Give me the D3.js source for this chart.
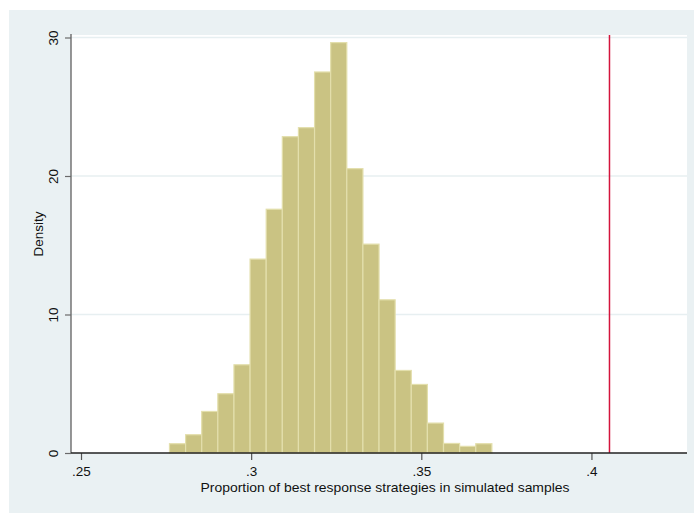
<!DOCTYPE html>
<html>
<head>
<meta charset="utf-8">
<script src="https://cdn.jsdelivr.net/npm/d3@7"></script>
<style>
  html, body { margin: 0; padding: 0; background: #fff; }
  svg { display: block; font-family: "Liberation Sans", Arial, sans-serif; }
</style>
</head>
<body>
<div id="chart"></div>
<script>
// Histogram data (density per bin)
const binStart = 0.2760;
const binWidth = 0.004737;
const densities = [0.67, 1.32, 3.0, 4.28, 6.37, 14.0, 17.6, 22.84, 23.49, 27.51,
                   29.63, 20.53, 15.08, 11.06, 5.96, 4.95, 2.16, 0.69, 0.48, 0.67];
const xTicks = [0.25, 0.30, 0.35, 0.40];
const xTickLabels = [".25", ".3", ".35", ".4"];
const yTicks = [0, 10, 20, 30];
const observedValue = 0.4053;

const W = 694, H = 513;
const margin = { top: 35, right: 7, bottom: 60, left: 71 };

const svg = d3.select('#chart')
  .append('svg')
  .attr('width', W)
  .attr('height', H);

// Outer panel
svg.append('rect')
  .attr('x', 9).attr('y', 10)
  .attr('width', W - 9).attr('height', H - 10)
  .attr('fill', '#eaf1f3');

const x = d3.scaleLinear().domain([0.24706, 0.42808]).range([margin.left, W - margin.right]);
const y = d3.scaleLinear().domain([0, 30.18]).range([H - margin.bottom, margin.top]);

// Plot region
svg.append('rect')
  .attr('x', margin.left).attr('y', margin.top)
  .attr('width', W - margin.right - margin.left)
  .attr('height', H - margin.bottom - margin.top)
  .attr('fill', '#fff');

// Gridlines
svg.selectAll('.grid')
  .data(yTicks.filter(d => d > 0))
  .enter()
  .append('line')
  .attr('x1', margin.left).attr('x2', W - margin.right)
  .attr('y1', d => y(d)).attr('y2', d => y(d))
  .attr('stroke', '#e7eff1')
  .attr('stroke-width', 1.5);

// Bars
const bins = densities.map((v, i) => ({ x0: binStart + i * binWidth, x1: binStart + (i + 1) * binWidth, v }));
svg.selectAll('.bar')
  .data(bins)
  .enter()
  .append('rect')
  .attr('class', 'bar')
  .attr('x', d => x(d.x0))
  .attr('width', d => x(d.x1) - x(d.x0))
  .attr('y', d => y(d.v))
  .attr('height', d => y(0) - y(d.v))
  .attr('fill', '#cac383')
  .attr('stroke', '#e3dfac')
  .attr('stroke-width', 1.2);

// Observed value line
svg.append('line')
  .attr('x1', x(observedValue)).attr('x2', x(observedValue))
  .attr('y1', margin.top).attr('y2', y(0))
  .attr('stroke', '#d4143c')
  .attr('stroke-width', 1.5);

// Y axis
const yAxis = svg.append('g')
  .attr('transform', `translate(${margin.left},0)`)
  .call(d3.axisLeft(y).tickValues(yTicks).tickSize(6).tickFormat(d3.format('d')));
yAxis.select('.domain').remove();
yAxis.append('line')
  .attr('x1', 0).attr('x2', 0)
  .attr('y1', margin.top - 1).attr('y2', y(0))
  .attr('stroke', '#6a6a6a').attr('stroke-width', 1.4);
yAxis.selectAll('.tick line').attr('stroke', '#6a6a6a').attr('stroke-width', 1.2);
yAxis.selectAll('.tick text')
  .attr('x', null).attr('dy', null)
  .attr('transform', 'translate(-13,0) rotate(-90)')
  .attr('text-anchor', 'middle')
  .attr('font-size', '13.5px')
  .attr('fill', '#111');

// X axis
const xAxis = svg.append('g')
  .attr('transform', `translate(0,${y(0)})`)
  .call(d3.axisBottom(x).tickValues(xTicks).tickSize(7).tickFormat((d, i) => xTickLabels[i]));
xAxis.select('.domain').remove();
xAxis.append('line')
  .attr('x1', margin.left).attr('x2', W - margin.right)
  .attr('stroke', '#222').attr('stroke-width', 1.4);
xAxis.selectAll('.tick line').attr('stroke', '#555').attr('stroke-width', 1.2);
xAxis.selectAll('.tick text')
  .attr('y', 23).attr('dy', null)
  .attr('font-size', '13.5px')
  .attr('fill', '#111');

// Axis titles
svg.append('text')
  .attr('x', 385).attr('y', 491.5)
  .attr('text-anchor', 'middle')
  .attr('font-size', '13.5px')
  .attr('fill', '#111')
  .attr('textLength', 369)
  .attr('lengthAdjust', 'spacingAndGlyphs')
  .text('Proportion of best response strategies in simulated samples');

svg.append('text')
  .attr('transform', 'translate(42.5,234) rotate(-90)')
  .attr('text-anchor', 'middle')
  .attr('font-size', '13.5px')
  .attr('fill', '#111')
  .text('Density');
</script>
</body>
</html>
